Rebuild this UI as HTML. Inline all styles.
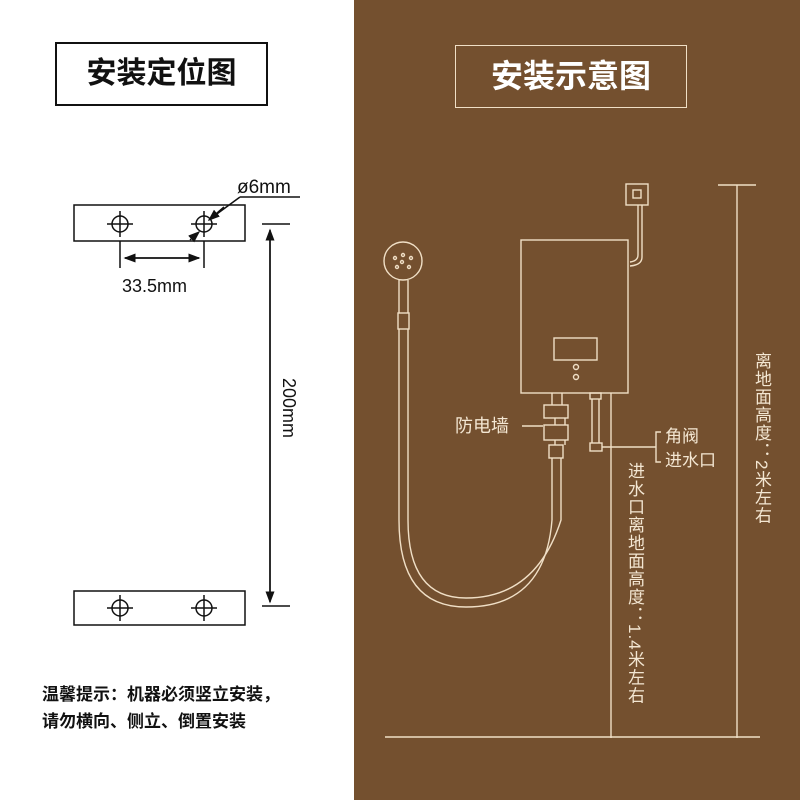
<!DOCTYPE html>
<html><head><meta charset="utf-8"><style>
body{margin:0;width:800px;height:800px;overflow:hidden;background:#fff;font-family:"Liberation Sans","Noto Sans CJK SC",sans-serif;}
.abs{position:absolute;}
.v{writing-mode:vertical-rl;color:#f3e6d2;font-size:17px;letter-spacing:1px;}
</style></head><body>
<div class="abs" style="left:354px;top:0;width:446px;height:800px;background:#74502f"></div>
<div class="abs" style="left:55px;top:42px;width:213px;height:64px;border:2px solid #111;box-sizing:border-box;text-align:center;line-height:60px;font-size:30px;font-weight:bold;color:#111">安装定位图</div>
<div class="abs" style="left:455px;top:45px;width:232px;height:63px;border:1.5px solid #f0dfc6;box-sizing:border-box;text-align:center;line-height:60px;font-size:32px;font-weight:bold;color:#fff">安装示意图</div>
<svg class="abs" style="left:0;top:0" width="800" height="800">
<defs><marker id="a" markerWidth="8" markerHeight="8" refX="7" refY="4" orient="auto"><path d="M0,1 L8,4 L0,7z" fill="#111"/></marker></defs>
<g stroke="#111" stroke-width="1.5" fill="none">
<rect x="74" y="205" width="171" height="36"/>
<rect x="74" y="591" width="171" height="34"/>
<circle cx="120" cy="224" r="8"/><circle cx="204" cy="224" r="8"/>
<circle cx="120" cy="608" r="8"/><circle cx="204" cy="608" r="8"/>
<path d="M107,224h26M120,211v26M191,224h26M204,211v26M107,608h26M120,595v26M191,608h26M204,595v26"/>
<path d="M262,224h28M262,606h28M120,241v27M204,241v27"/>
<path d="M125,258h74" marker-end="url(#a)"/><path d="M199,258h-74" marker-end="url(#a)"/>
<path d="M270,600v-370" marker-end="url(#a)"/><path d="M270,232v370" marker-end="url(#a)"/>
<path d="M240,197h60M240,197l-30,22"/><path d="M224,207l-15,13" marker-end="url(#a)"/><path d="M190,240l9,-8" marker-end="url(#a)"/>
</g>
<text x="237" y="193" font-size="19" fill="#111" font-family="Liberation Sans">ø6mm</text>
<text x="122" y="292" font-size="18" fill="#111" font-family="Liberation Sans">33.5mm</text>
<text transform="translate(283,378) rotate(90)" font-size="18" fill="#111" font-family="Liberation Sans">200mm</text>
<text x="42" y="700" font-size="17" font-weight="bold" fill="#111">温馨提示：机器必须竖立安装，</text>
<text x="42" y="727" font-size="17" font-weight="bold" fill="#111">请勿横向、侧立、倒置安装</text>
<g stroke="#f0dfc6" stroke-width="1.4" fill="none">
<rect x="626" y="184" width="22" height="21"/><rect x="633" y="190" width="8" height="8"/>
<path d="M638,205v50q0,6-8,7M642,205v52q0,8-12,9"/>
<rect x="521" y="240" width="107" height="153"/>
<rect x="554" y="338" width="43" height="22"/>
<circle cx="576" cy="367" r="2.5"/><circle cx="576" cy="377" r="2.5"/>
<circle cx="403" cy="261" r="19"/>
<circle cx="395" cy="258" r="1.5"/><circle cx="403" cy="255" r="1.5"/><circle cx="411" cy="258" r="1.5"/><circle cx="402" cy="262" r="1.5"/><circle cx="397" cy="267" r="1.5"/><circle cx="409" cy="267" r="1.5"/>
<rect x="398" y="313" width="11" height="16"/>
<path d="M399,280v33M408,280v33"/>
<path d="M399,329V520Q399,607 466,607Q545,607 552,520V458"/>
<path d="M408,329V520Q408,598 466,598Q536,598 561,520V458"/>
<path d="M552,393v12M562,393v12M555,418v7M565,418v7M555,440v5M565,440v5"/>
<rect x="544" y="405" width="24" height="13"/><rect x="544" y="425" width="24" height="15"/><rect x="549" y="445" width="14" height="13"/>
<path d="M522,426h21"/>
<rect x="590" y="393" width="11" height="6"/><path d="M592,399v44M599,399v44"/><rect x="590" y="443" width="12" height="8"/>
<path d="M602,447h54M661,432h-5v30h5"/>
<path d="M611,393V738M737,185V738M718,185h38M385,737h375"/>
</g>
<text x="455" y="432" font-size="18" fill="#f3e6d2">防电墙</text>
<text x="665" y="442" font-size="17" fill="#f3e6d2">角阀</text>
<text x="665" y="466" font-size="17" fill="#f3e6d2">进水口</text>
</svg>
<div class="abs v" style="left:622px;top:462px;">进水口离地面高度：1.4米左右</div>
<div class="abs v" style="left:749px;top:352px;">离地面高度：2米左右</div>
</body></html>
